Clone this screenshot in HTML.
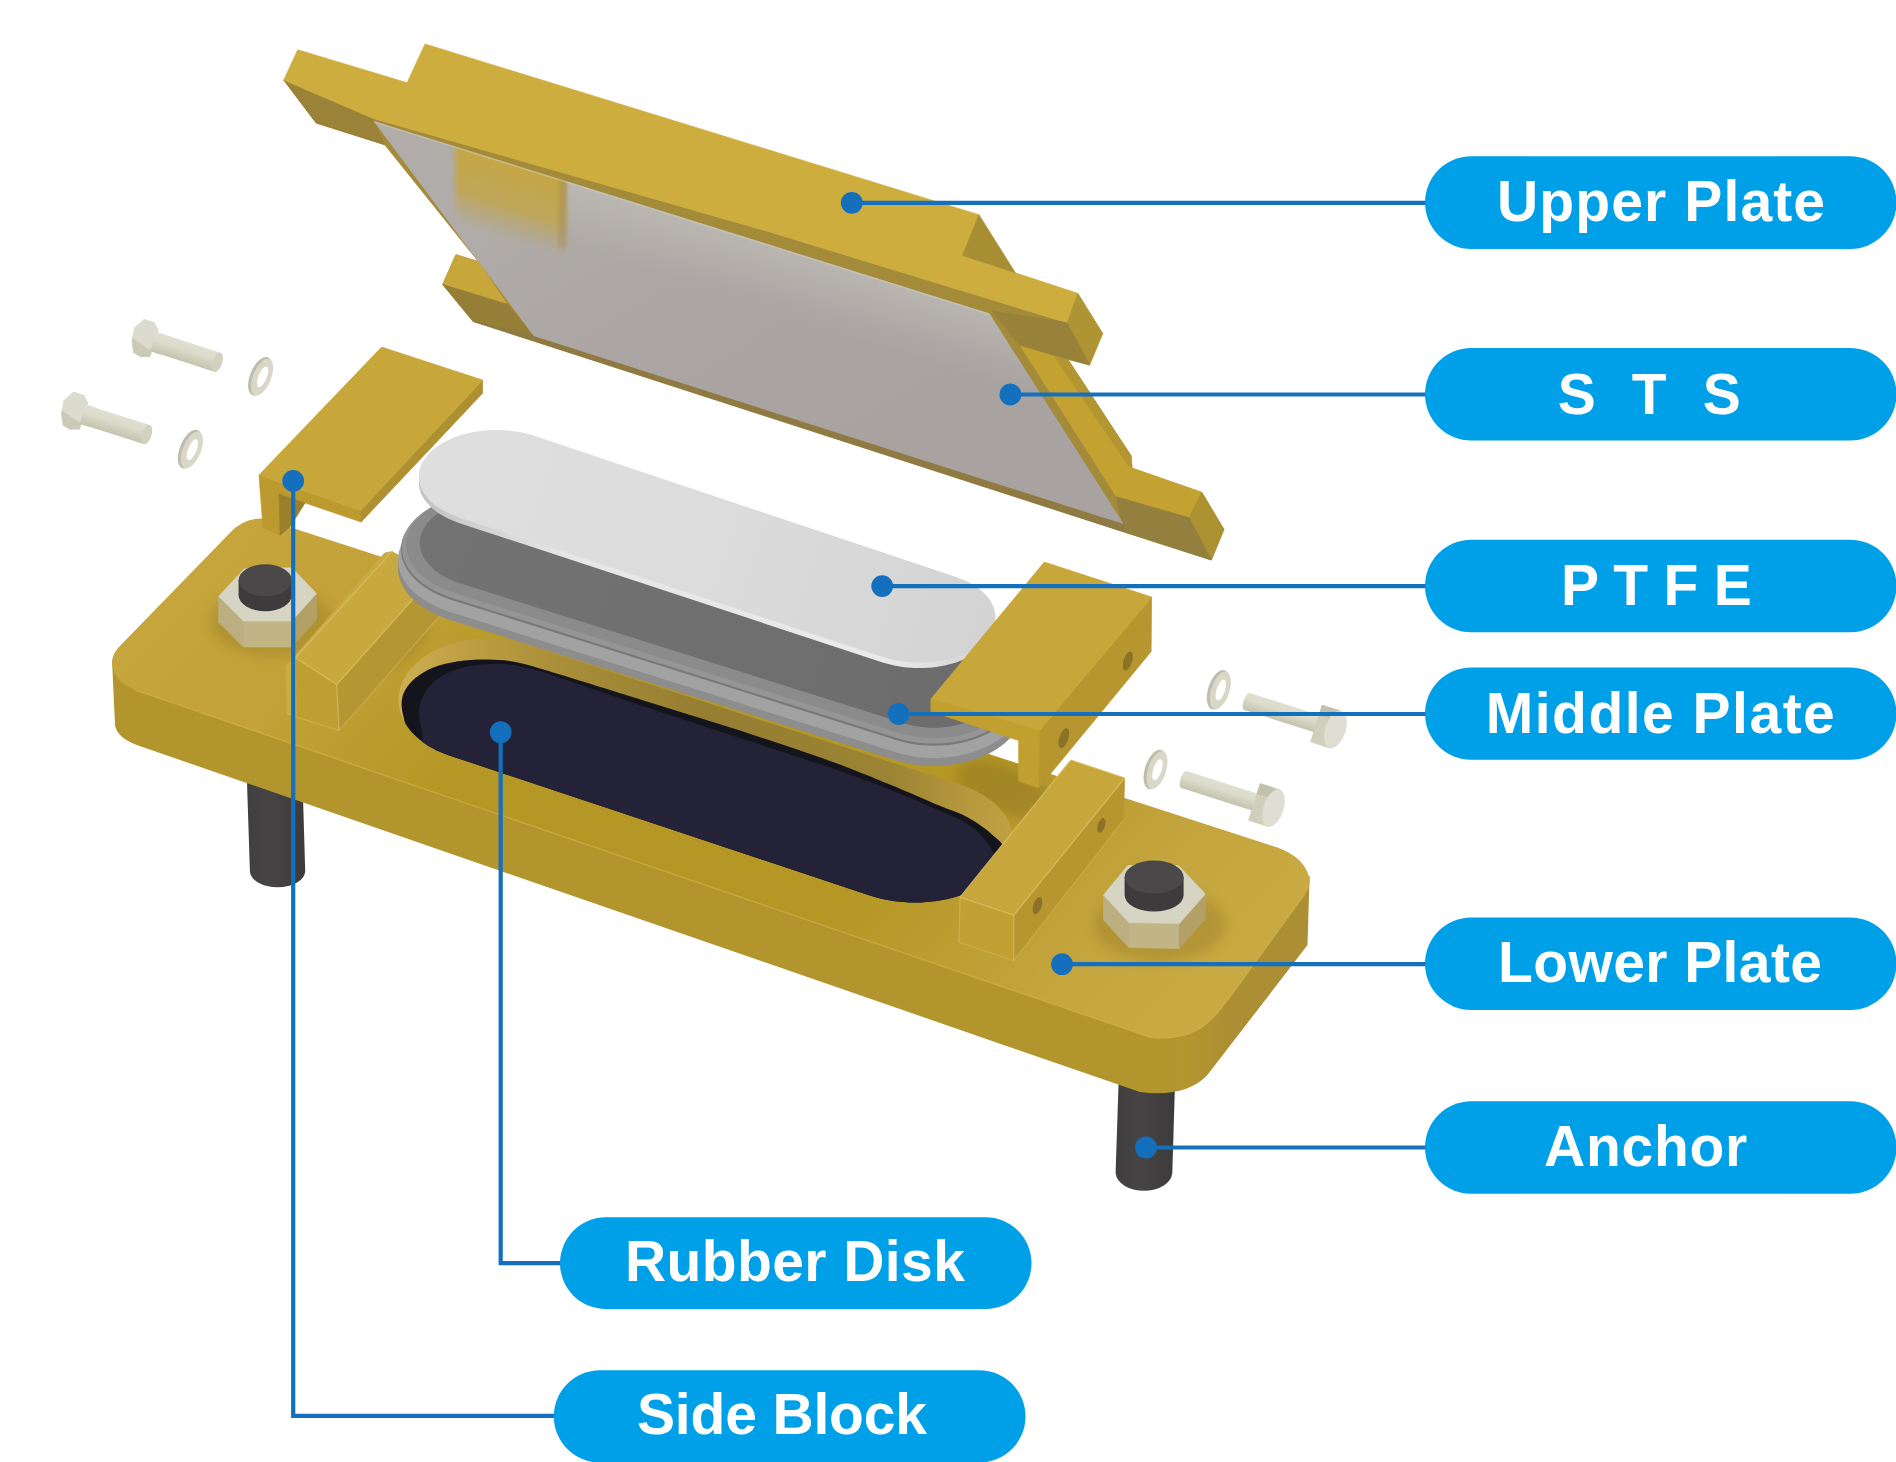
<!DOCTYPE html>
<html lang="en"><head><meta charset="utf-8"><title>Bearing exploded view</title>
<style>html,body{margin:0;padding:0;background:#fff;overflow:hidden}body{width:1896px;height:1462px}
text{font-family:"Liberation Sans",sans-serif;font-weight:bold;font-size:57px;fill:#fff;text-anchor:middle}</style></head>
<body>
<svg width="1896" height="1462" viewBox="0 0 1896 1462" style="display:block">
<defs>
<linearGradient id="gSTS" gradientUnits="userSpaceOnUse" x1="600" y1="150" x2="800" y2="480"><stop offset="0" stop-color="#B0ACA9"/><stop offset="0.45" stop-color="#ABA6A4"/><stop offset="1" stop-color="#A8A3A1"/></linearGradient>
<linearGradient id="gPTFE" gradientUnits="userSpaceOnUse" x1="430" y1="450" x2="990" y2="640"><stop offset="0" stop-color="#DEDEDE"/><stop offset="0.5" stop-color="#DCDCDC"/><stop offset="1" stop-color="#D3D3D3"/></linearGradient>
<linearGradient id="gMid" gradientUnits="userSpaceOnUse" x1="420" y1="540" x2="980" y2="740"><stop offset="0" stop-color="#727372"/><stop offset="1" stop-color="#6B6C6B"/></linearGradient>
<linearGradient id="gRod" x1="0" y1="0" x2="1" y2="0"><stop offset="0" stop-color="#403E3E"/><stop offset="0.4" stop-color="#464444"/><stop offset="1" stop-color="#3C3A3A"/></linearGradient>
<linearGradient id="gTopL" gradientUnits="userSpaceOnUse" x1="112" y1="662" x2="831.7" y2="1367.6"><stop offset="0" stop-color="#C5A53C"/><stop offset="0.15" stop-color="#C2A238"/><stop offset="0.26" stop-color="#B99B2B"/><stop offset="0.33" stop-color="#B59725"/><stop offset="0.69" stop-color="#B59725"/><stop offset="0.78" stop-color="#BB9D30"/><stop offset="0.875" stop-color="#C3A43D"/><stop offset="1" stop-color="#C8A942"/></linearGradient>
<filter id="blur6" x="-20%" y="-20%" width="140%" height="140%"><feGaussianBlur stdDeviation="6"/></filter>
<clipPath id="clipSTS"><polygon points="373.5,121 989.4,313.6 1123.7,524.1 533.7,335.9"/></clipPath>
</defs>
<path d="M246.6,770.0 L302.2,770.0 L305.2,871.0 A27.6,16.3 0 0 1 249.9,871.0 Z" fill="url(#gRod)" />
<path d="M1119.0,1070.0 L1175.4,1070.0 L1172.3,1173.0 A28.4,19.0 0 0 1 1115.6,1173.0 Z" fill="url(#gRod)" />
<linearGradient id="gFront" gradientUnits="userSpaceOnUse" x1="1130" y1="0" x2="1235" y2="0"><stop offset="0" stop-color="#B2952C"/><stop offset="0.5" stop-color="#B3962F"/><stop offset="1" stop-color="#AC8E34"/></linearGradient>
<path d="M112,660 L115,725 Q116.5,738 139.6,746 L1140,1092.1 Q1185,1098 1207,1075.6 L1307.5,945 L1309.6,876 L1200,860 L200,600 Z" fill="url(#gFront)" />
<path d="M263.3,518.5 L1277.5,847.6 Q1306,858 1309.6,880 Q1310,888 1305,894 L1230,997 C1212,1020 1198,1042 1150,1037.2 L135,690 Q113,681 112,662 Q112,653 122.8,643 L229.1,533.7 Q243,518 263.3,518.5 Z" fill="url(#gTopL)" />
<path d="M135,690 L1150,1037.2 C1198,1042 1212,1020 1230,997 L1305,894" fill="none" stroke="#D6B850" stroke-width="1.6" stroke-opacity="0.5"/>
<clipPath id="clipTop"><path d="M263.3,518.5 L1277.5,847.6 Q1306,858 1309.6,880 Q1310,888 1305,894 L1230,997 C1212,1020 1198,1042 1150,1037.2 L135,690 Q113,681 112,662 Q112,653 122.8,643 L229.1,533.7 Q243,518 263.3,518.5 Z"/></clipPath><g clip-path="url(#clipTop)">
<ellipse cx="1006" cy="790" rx="52" ry="24" transform="rotate(22 1006 790)" fill="#7A6420" opacity="0.32" filter="url(#blur6)"/>
<ellipse cx="395" cy="640" rx="40" ry="22" transform="rotate(-40 395 640)" fill="#7A6420" opacity="0.25" filter="url(#blur6)"/>
<ellipse cx="272" cy="622" rx="62" ry="34" fill="#8E7420" opacity="0.35" filter="url(#blur6)"/>
<ellipse cx="1160" cy="925" rx="66" ry="36" fill="#8E7420" opacity="0.35" filter="url(#blur6)"/>
</g>
<linearGradient id="gWall" gradientUnits="userSpaceOnUse" x1="398" y1="0" x2="1015" y2="0"><stop offset="0" stop-color="#CDB052"/><stop offset="0.1" stop-color="#BFA044"/><stop offset="0.27" stop-color="#A88E38"/><stop offset="0.5" stop-color="#957D32"/><stop offset="0.8" stop-color="#9C8434"/><stop offset="0.93" stop-color="#B89A3E"/><stop offset="1" stop-color="#C0A244"/></linearGradient>
<clipPath id="clipPocket"><path d="M398.5,700.0 L398.6,696.6 L399.1,693.1 L399.8,689.7 L400.7,686.3 L402.0,683.0 L403.5,679.7 L405.3,676.5 L407.4,673.3 L409.7,670.3 L412.2,667.3 L415.0,664.4 L418.0,661.7 L421.3,659.0 L424.7,656.5 L428.4,654.1 L432.2,651.9 L436.2,649.8 L440.4,647.9 L444.7,646.2 L449.2,644.6 L453.7,643.2 L458.4,642.0 L463.2,640.9 L468.1,640.0 L473.0,639.4 L478.0,638.9 L483.0,638.6 L488.0,638.5 L493.0,638.6 L498.0,638.9 L503.0,639.4 L507.9,640.0 L512.8,640.9 L517.6,642.0 L522.3,643.2 L526.8,644.6 L957.5,783.7 L962.4,785.3 L967.1,787.1 L971.7,789.0 L976.1,791.1 L980.3,793.4 L984.3,795.8 L988.1,798.4 L991.6,801.0 L994.9,803.8 L998.0,806.7 L1000.8,809.8 L1003.3,812.9 L1005.5,816.1 L1007.5,819.4 L1009.2,822.7 L1010.5,826.1 L1011.6,829.5 L1012.4,833.0 L1012.8,836.5 L1013.0,840.0 L1012.8,843.5 L1012.4,847.0 L1011.6,850.5 L1010.5,853.9 L1009.2,857.3 L1007.5,860.6 L1005.5,863.9 L1003.3,867.1 L1000.8,870.2 L998.0,873.3 L994.9,876.2 L991.6,879.0 L988.1,881.6 L984.3,884.2 L980.3,886.6 L976.1,888.9 L971.7,891.0 L967.1,892.9 L962.4,894.7 L957.5,896.3 L952.5,897.7 L947.4,899.0 L942.1,900.1 L936.8,900.9 L931.4,901.6 L926.0,902.1 L920.5,902.4 L915.0,902.5 L909.5,902.4 L904.0,902.1 L898.6,901.6 L893.2,900.9 L887.9,900.1 L882.6,899.0 L877.5,897.7 L872.5,896.3 L867.6,894.7 L449.2,755.4 L444.7,753.8 L440.4,752.1 L436.2,750.2 L432.2,748.1 L428.4,745.9 L424.7,743.5 L421.3,741.0 L418.0,738.3 L415.0,735.6 L412.2,732.7 L409.7,729.7 L407.4,726.7 L405.3,723.5 L403.5,720.3 L402.0,717.0 L400.7,713.7 L399.8,710.3 L399.1,706.9 L398.6,703.4Z"/></clipPath>
<path d="M398.5,700.0 L398.6,696.6 L399.1,693.1 L399.8,689.7 L400.7,686.3 L402.0,683.0 L403.5,679.7 L405.3,676.5 L407.4,673.3 L409.7,670.3 L412.2,667.3 L415.0,664.4 L418.0,661.7 L421.3,659.0 L424.7,656.5 L428.4,654.1 L432.2,651.9 L436.2,649.8 L440.4,647.9 L444.7,646.2 L449.2,644.6 L453.7,643.2 L458.4,642.0 L463.2,640.9 L468.1,640.0 L473.0,639.4 L478.0,638.9 L483.0,638.6 L488.0,638.5 L493.0,638.6 L498.0,638.9 L503.0,639.4 L507.9,640.0 L512.8,640.9 L517.6,642.0 L522.3,643.2 L526.8,644.6 L957.5,783.7 L962.4,785.3 L967.1,787.1 L971.7,789.0 L976.1,791.1 L980.3,793.4 L984.3,795.8 L988.1,798.4 L991.6,801.0 L994.9,803.8 L998.0,806.7 L1000.8,809.8 L1003.3,812.9 L1005.5,816.1 L1007.5,819.4 L1009.2,822.7 L1010.5,826.1 L1011.6,829.5 L1012.4,833.0 L1012.8,836.5 L1013.0,840.0 L1012.8,843.5 L1012.4,847.0 L1011.6,850.5 L1010.5,853.9 L1009.2,857.3 L1007.5,860.6 L1005.5,863.9 L1003.3,867.1 L1000.8,870.2 L998.0,873.3 L994.9,876.2 L991.6,879.0 L988.1,881.6 L984.3,884.2 L980.3,886.6 L976.1,888.9 L971.7,891.0 L967.1,892.9 L962.4,894.7 L957.5,896.3 L952.5,897.7 L947.4,899.0 L942.1,900.1 L936.8,900.9 L931.4,901.6 L926.0,902.1 L920.5,902.4 L915.0,902.5 L909.5,902.4 L904.0,902.1 L898.6,901.6 L893.2,900.9 L887.9,900.1 L882.6,899.0 L877.5,897.7 L872.5,896.3 L867.6,894.7 L449.2,755.4 L444.7,753.8 L440.4,752.1 L436.2,750.2 L432.2,748.1 L428.4,745.9 L424.7,743.5 L421.3,741.0 L418.0,738.3 L415.0,735.6 L412.2,732.7 L409.7,729.7 L407.4,726.7 L405.3,723.5 L403.5,720.3 L402.0,717.0 L400.7,713.7 L399.8,710.3 L399.1,706.9 L398.6,703.4Z" fill="url(#gWall)" />
<g clip-path="url(#clipPocket)">
<path d="M403.8,718.1 C402.4,712.0 401.4,708.0 401.6,703.4 C401.8,698.8 402.5,694.9 404.8,690.7 C407.1,686.5 410.6,682.0 415.4,678.1 C420.1,674.2 426.1,670.3 433.3,667.5 C440.5,664.7 449.5,662.5 458.6,661.2 C467.7,659.9 478.2,659.3 488.1,659.5 C498.0,659.7 505.7,660.0 517.7,662.5 C529.7,665.0 537.9,667.8 559.9,674.5 C581.9,681.2 620.0,693.1 650.0,702.5 C680.0,711.9 710.0,720.9 740.0,730.6 C770.0,740.4 805.1,752.0 830.0,761.0 C854.9,770.0 871.2,776.9 889.3,784.3 C907.4,791.7 926.2,800.2 938.5,805.3 C950.8,810.4 956.0,811.6 963.2,815.1 C970.4,818.6 976.3,822.5 981.6,826.2 C986.9,829.9 991.5,833.8 995.2,837.3 C998.9,840.8 1001.7,842.5 1004.0,847.0 C1006.3,851.5 1009.7,855.2 1009.0,864.0 C1008.3,872.8 1008.2,889.0 1000.0,900.0 C991.8,911.0 980.0,925.8 960.0,930.0 C940.0,934.2 940.0,941.7 880.0,925.0 C820.0,908.3 675.0,855.8 600.0,830.0 C525.0,804.2 461.7,785.0 430.0,770.0 C398.3,755.0 414.4,748.6 410.0,740.0 C405.6,731.4 405.2,724.2 403.8,718.1Z" fill="#14141C" />
<path d="M421.7,730.8 C420.7,724.8 418.9,719.2 418.9,713.9 C418.9,708.6 419.6,704.1 421.7,699.2 C423.8,694.3 426.8,688.8 431.2,684.4 C435.6,680.0 441.4,675.9 448.1,672.8 C454.8,669.7 462.5,667.3 471.3,665.8 C480.1,664.3 491.0,663.3 500.8,663.8 C510.6,664.2 520.4,666.2 530.3,668.5 C540.1,670.8 539.9,671.1 559.9,677.8 C579.9,684.5 620.0,698.5 650.0,708.5 C680.0,718.5 710.0,728.2 740.0,738.0 C770.0,747.8 805.1,759.0 830.0,767.5 C854.9,776.0 871.2,782.2 889.3,789.3 C907.4,796.4 926.2,804.9 938.5,810.2 C950.8,815.5 956.4,817.4 963.2,821.3 C970.0,825.2 974.7,829.3 979.2,833.6 C983.7,837.9 987.5,842.9 990.2,847.1 C992.9,851.3 994.5,854.2 995.5,859.0 C996.5,863.8 997.8,868.3 996.0,876.0 C994.2,883.7 994.3,896.0 985.0,905.0 C975.7,914.0 959.2,926.7 940.0,930.0 C920.8,933.3 926.7,940.8 870.0,925.0 C813.3,909.2 671.7,860.0 600.0,835.0 C528.3,810.0 469.2,789.2 440.0,775.0 C410.8,760.8 428.1,757.4 425.0,750.0 C421.9,742.6 422.7,736.8 421.7,730.8Z" fill="#232236" />
</g>
<polygon points="285.8,666.5 295.3,657.8 392.1,551.6 384.5,553.0" fill="#C9AB44" stroke="#C9AB44" stroke-width="0.7" stroke-linejoin="round" />
<polygon points="285.8,666.5 295.3,657.8 295.9,716.8 287.2,713.2" fill="#CBAD46" stroke="#CBAD46" stroke-width="0.7" stroke-linejoin="round" />
<polygon points="295.3,657.8 336.8,684.5 339.0,730.4 295.9,716.8" fill="#BF9F31" stroke="#BF9F31" stroke-width="0.7" stroke-linejoin="round" />
<polygon points="336.8,684.5 434.2,575.4 443.7,611.5 339.0,730.4" fill="#B49632" stroke="#B49632" stroke-width="0.7" stroke-linejoin="round" />
<polygon points="392.1,551.6 434.2,575.4 336.8,684.5 295.3,657.8" fill="#C8A93D" stroke="#C8A93D" stroke-width="0.7" stroke-linejoin="round" />
<polyline points="392.1,551.6 295.3,657.8 336.8,684.5 434.2,575.4" fill="none" stroke="#E2C878" stroke-width="1.3" stroke-opacity="0.55" stroke-linejoin="round"/>
<polyline points="336.8,684.5 339.0,730.4" fill="none" stroke="#E2C878" stroke-width="1.3" stroke-opacity="0.55" stroke-linejoin="round"/>
<polyline points="295.3,657.8 295.9,716.8" fill="none" stroke="#E2C878" stroke-width="1.3" stroke-opacity="0.4" stroke-linejoin="round"/>
<polyline points="287.2,713.2 295.9,716.8 339.0,730.4 443.7,611.5" fill="none" stroke="#E2C878" stroke-width="1.3" stroke-opacity="0.35" stroke-linejoin="round"/>
<polygon points="960.0,897.2 1013.8,915.1 1013.8,960.5 959.0,942.5" fill="#C2A034" stroke="#C2A034" stroke-width="0.7" stroke-linejoin="round" />
<polygon points="1013.8,915.1 1124.6,778.0 1123.5,820.2 1013.8,960.5" fill="#B7962F" stroke="#B7962F" stroke-width="0.7" stroke-linejoin="round" />
<polygon points="1070.8,760.0 1124.6,778.0 1013.8,915.1 960.0,897.2" fill="#C7A73B" stroke="#C7A73B" stroke-width="0.7" stroke-linejoin="round" />
<polyline points="1070.8,760.0 960.0,897.2 1013.8,915.1 1124.6,778.0 1070.8,760.0" fill="none" stroke="#E2C878" stroke-width="1.3" stroke-opacity="0.55" stroke-linejoin="round"/>
<polyline points="1013.8,915.1 1013.8,960.5" fill="none" stroke="#E2C878" stroke-width="1.3" stroke-opacity="0.55" stroke-linejoin="round"/>
<polyline points="960.0,897.2 959.0,942.5 1013.8,960.5 1123.5,820.2" fill="none" stroke="#E2C878" stroke-width="1.3" stroke-opacity="0.35" stroke-linejoin="round"/>
<ellipse cx="1101.4" cy="825.4" rx="3.6" ry="7.6" transform="rotate(18 1101.4 825.4)" fill="#8A7326"/>
<ellipse cx="1037.5" cy="905.6" rx="4.2" ry="9" transform="rotate(18 1037.5 905.6)" fill="#8A7326"/>
<polygon points="218.7,596.3 243.4,621.0 243.4,647.0 218.7,622.3" fill="#BBAF82" stroke="#BBAF82" stroke-width="0.7" stroke-linejoin="round" />
<polygon points="243.4,621.0 291.8,621.0 291.8,647.0 243.4,647.0" fill="#C2B585" stroke="#C2B585" stroke-width="0.7" stroke-linejoin="round" />
<polygon points="291.8,621.0 316.5,593.5 316.5,619.5 291.8,647.0" fill="#B2A066" stroke="#B2A066" stroke-width="0.7" stroke-linejoin="round" />
<polygon points="244.3,568.8 291.8,567.8 316.5,593.5 291.8,621.0 243.4,621.0 218.7,596.3" fill="#D6D4C2" stroke="#D6D4C2" stroke-width="0.7" stroke-linejoin="round" />
<path d="M238.6,580.2 L238.6,595.2 A26.6,16.0 0 0 0 291.8,595.2 L291.8,580.2 Z" fill="#3D3B3B" />
<ellipse cx="265.2" cy="580.2" rx="26.6" ry="16.0" fill="#4A4848"/>
<polygon points="1103.5,895.0 1128.8,922.5 1128.8,947.5 1103.5,920.0" fill="#BBAF82" stroke="#BBAF82" stroke-width="0.7" stroke-linejoin="round" />
<polygon points="1128.8,922.5 1179.4,923.5 1179.4,948.5 1128.8,947.5" fill="#C2B585" stroke="#C2B585" stroke-width="0.7" stroke-linejoin="round" />
<polygon points="1179.4,923.5 1205.4,894.0 1205.4,919.0 1179.4,948.5" fill="#B2A066" stroke="#B2A066" stroke-width="0.7" stroke-linejoin="round" />
<polygon points="1127.8,865.5 1178.4,865.5 1205.4,894.0 1179.4,923.5 1128.8,922.5 1103.5,895.0" fill="#D6D4C2" stroke="#D6D4C2" stroke-width="0.7" stroke-linejoin="round" />
<path d="M1124.6,877.1 L1124.6,895.1 A29.5,16.5 0 0 0 1183.6,895.1 L1183.6,877.1 Z" fill="#3D3B3B" />
<ellipse cx="1154.1" cy="877.1" rx="29.5" ry="16.5" fill="#4A4848"/>
<path d="M398.0,568.0 L398.2,564.7 L398.6,561.4 L399.4,558.2 L400.5,554.9 L401.8,551.7 L403.5,548.6 L405.5,545.5 L407.7,542.5 L410.2,539.6 L413.0,536.7 L416.1,534.0 L419.4,531.3 L422.9,528.8 L426.7,526.4 L430.7,524.2 L434.9,522.0 L439.3,520.0 L443.9,518.2 L448.6,516.5 L453.5,515.0 L458.5,513.7 L463.6,512.5 L468.9,511.5 L474.2,510.7 L479.6,510.0 L485.0,509.6 L490.5,509.3 L496.0,509.2 L501.5,509.3 L507.0,509.6 L512.4,510.0 L517.8,510.7 L523.1,511.5 L528.4,512.5 L533.5,513.7 L538.5,515.0 L543.4,516.5 L973.0,651.9 L977.5,653.5 L981.9,655.2 L986.1,657.1 L990.1,659.1 L994.0,661.3 L997.6,663.6 L1001.1,666.0 L1004.4,668.6 L1007.4,671.3 L1010.2,674.1 L1012.8,677.0 L1015.1,680.0 L1017.1,683.0 L1018.9,686.2 L1020.5,689.4 L1021.7,692.6 L1022.7,695.9 L1023.4,699.3 L1023.9,702.6 L1024.0,706.0 L1023.9,709.4 L1023.4,712.7 L1022.7,716.1 L1021.7,719.4 L1020.5,722.6 L1018.9,725.8 L1017.1,729.0 L1015.1,732.0 L1012.8,735.0 L1010.2,737.9 L1007.4,740.7 L1004.4,743.4 L1001.1,746.0 L997.6,748.4 L994.0,750.7 L990.1,752.9 L986.1,754.9 L981.9,756.8 L977.5,758.5 L973.0,760.1 L968.4,761.4 L963.7,762.6 L958.9,763.7 L954.0,764.5 L949.1,765.2 L944.1,765.6 L939.0,765.9 L934.0,766.0 L929.0,765.9 L923.9,765.6 L918.9,765.2 L914.0,764.5 L909.1,763.7 L904.3,762.6 L899.6,761.4 L895.0,760.1 L448.6,619.5 L443.9,617.8 L439.3,616.0 L434.9,614.0 L430.7,611.8 L426.7,609.6 L422.9,607.2 L419.4,604.7 L416.1,602.0 L413.0,599.3 L410.2,596.4 L407.7,593.5 L405.5,590.5 L403.5,587.4 L401.8,584.3 L400.5,581.1 L399.4,577.8 L398.6,574.6 L398.2,571.3Z" fill="#8C8D8C" />
<path d="M398.0,560.0 L398.2,556.7 L398.6,553.4 L399.4,550.2 L400.5,546.9 L401.8,543.7 L403.5,540.6 L405.5,537.5 L407.7,534.5 L410.2,531.6 L413.0,528.7 L416.1,526.0 L419.4,523.3 L422.9,520.8 L426.7,518.4 L430.7,516.2 L434.9,514.0 L439.3,512.0 L443.9,510.2 L448.6,508.5 L453.5,507.0 L458.5,505.7 L463.6,504.5 L468.9,503.5 L474.2,502.7 L479.6,502.0 L485.0,501.6 L490.5,501.3 L496.0,501.2 L501.5,501.3 L507.0,501.6 L512.4,502.0 L517.8,502.7 L523.1,503.5 L528.4,504.5 L533.5,505.7 L538.5,507.0 L543.4,508.5 L973.0,643.9 L977.5,645.5 L981.9,647.2 L986.1,649.1 L990.1,651.1 L994.0,653.3 L997.6,655.6 L1001.1,658.0 L1004.4,660.6 L1007.4,663.3 L1010.2,666.1 L1012.8,669.0 L1015.1,672.0 L1017.1,675.0 L1018.9,678.2 L1020.5,681.4 L1021.7,684.6 L1022.7,687.9 L1023.4,691.3 L1023.9,694.6 L1024.0,698.0 L1023.9,701.4 L1023.4,704.7 L1022.7,708.1 L1021.7,711.4 L1020.5,714.6 L1018.9,717.8 L1017.1,721.0 L1015.1,724.0 L1012.8,727.0 L1010.2,729.9 L1007.4,732.7 L1004.4,735.4 L1001.1,738.0 L997.6,740.4 L994.0,742.7 L990.1,744.9 L986.1,746.9 L981.9,748.8 L977.5,750.5 L973.0,752.1 L968.4,753.4 L963.7,754.6 L958.9,755.7 L954.0,756.5 L949.1,757.2 L944.1,757.6 L939.0,757.9 L934.0,758.0 L929.0,757.9 L923.9,757.6 L918.9,757.2 L914.0,756.5 L909.1,755.7 L904.3,754.6 L899.6,753.4 L895.0,752.1 L448.6,611.5 L443.9,609.8 L439.3,608.0 L434.9,606.0 L430.7,603.8 L426.7,601.6 L422.9,599.2 L419.4,596.7 L416.1,594.0 L413.0,591.3 L410.2,588.4 L407.7,585.5 L405.5,582.5 L403.5,579.4 L401.8,576.3 L400.5,573.1 L399.4,569.8 L398.6,566.6 L398.2,563.3Z" fill="#A1A2A1" />
<path d="M401.0,549.5 L401.1,546.3 L401.6,543.1 L402.3,540.0 L403.4,536.8 L404.7,533.7 L406.3,530.7 L408.2,527.7 L410.4,524.8 L412.9,521.9 L415.6,519.2 L418.5,516.5 L421.7,514.0 L425.2,511.5 L428.8,509.2 L432.7,507.0 L436.8,504.9 L441.0,503.0 L445.5,501.2 L450.0,499.6 L454.8,498.1 L459.6,496.8 L464.6,495.7 L469.7,494.7 L474.9,493.9 L480.1,493.3 L485.4,492.9 L490.7,492.6 L496.0,492.5 L501.3,492.6 L506.6,492.9 L511.9,493.3 L517.1,493.9 L522.3,494.7 L527.4,495.7 L532.4,496.8 L537.2,498.1 L542.0,499.6 L972.0,635.1 L976.3,636.6 L980.6,638.2 L984.6,640.0 L988.6,642.0 L992.3,644.1 L995.9,646.3 L999.2,648.7 L1002.4,651.2 L1005.4,653.8 L1008.1,656.5 L1010.6,659.3 L1012.8,662.2 L1014.8,665.2 L1016.6,668.3 L1018.1,671.4 L1019.3,674.5 L1020.3,677.8 L1020.9,681.0 L1021.4,684.2 L1021.5,687.5 L1021.4,690.8 L1020.9,694.0 L1020.3,697.2 L1019.3,700.5 L1018.1,703.6 L1016.6,706.7 L1014.8,709.8 L1012.8,712.8 L1010.6,715.7 L1008.1,718.5 L1005.4,721.2 L1002.4,723.8 L999.2,726.3 L995.9,728.7 L992.3,730.9 L988.6,733.0 L984.6,735.0 L980.6,736.8 L976.3,738.4 L972.0,739.9 L967.5,741.3 L962.9,742.4 L958.2,743.4 L953.5,744.2 L948.7,744.9 L943.8,745.3 L938.9,745.6 L934.0,745.7 L929.1,745.6 L924.2,745.3 L919.3,744.9 L914.5,744.2 L909.8,743.4 L905.1,742.4 L900.5,741.3 L896.0,739.9 L450.0,599.4 L445.5,597.8 L441.0,596.0 L436.8,594.1 L432.7,592.0 L428.8,589.8 L425.2,587.5 L421.7,585.0 L418.5,582.5 L415.6,579.8 L412.9,577.1 L410.4,574.2 L408.2,571.3 L406.3,568.3 L404.7,565.3 L403.4,562.2 L402.3,559.0 L401.6,555.9 L401.1,552.7Z" fill="#777877" />
<path d="M402.0,548.0 L402.1,544.8 L402.6,541.7 L403.3,538.6 L404.4,535.4 L405.7,532.4 L407.3,529.4 L409.2,526.4 L411.3,523.5 L413.7,520.7 L416.4,518.0 L419.3,515.4 L422.5,512.8 L425.9,510.4 L429.5,508.1 L433.4,505.9 L437.4,503.9 L441.6,502.0 L446.0,500.2 L450.5,498.6 L455.2,497.2 L460.0,495.9 L465.0,494.8 L470.0,493.8 L475.1,493.0 L480.3,492.4 L485.5,492.0 L490.7,491.7 L496.0,491.6 L501.3,491.7 L506.5,492.0 L511.7,492.4 L516.9,493.0 L522.0,493.8 L527.0,494.8 L532.0,495.9 L536.8,497.2 L541.5,498.6 L971.5,634.1 L975.8,635.6 L980.0,637.2 L984.1,639.0 L987.9,641.0 L991.6,643.1 L995.2,645.3 L998.5,647.6 L1001.6,650.1 L1004.5,652.7 L1007.2,655.4 L1009.7,658.1 L1011.9,661.0 L1013.9,664.0 L1015.6,667.0 L1017.1,670.1 L1018.3,673.2 L1019.3,676.4 L1020.0,679.6 L1020.4,682.8 L1020.5,686.0 L1020.4,689.2 L1020.0,692.4 L1019.3,695.6 L1018.3,698.8 L1017.1,701.9 L1015.6,705.0 L1013.9,708.0 L1011.9,711.0 L1009.7,713.9 L1007.2,716.6 L1004.5,719.3 L1001.6,721.9 L998.5,724.4 L995.2,726.7 L991.6,728.9 L987.9,731.0 L984.1,733.0 L980.0,734.8 L975.8,736.4 L971.5,737.9 L967.1,739.2 L962.6,740.4 L957.9,741.3 L953.2,742.2 L948.5,742.8 L943.7,743.2 L938.9,743.5 L934.0,743.6 L929.1,743.5 L924.3,743.2 L919.5,742.8 L914.8,742.2 L910.1,741.3 L905.4,740.4 L900.9,739.2 L896.5,737.9 L450.5,597.4 L446.0,595.8 L441.6,594.0 L437.4,592.1 L433.4,590.1 L429.5,587.9 L425.9,585.6 L422.5,583.2 L419.3,580.6 L416.4,578.0 L413.7,575.3 L411.3,572.5 L409.2,569.6 L407.3,566.6 L405.7,563.6 L404.4,560.6 L403.3,557.4 L402.6,554.3 L402.1,551.2Z" fill="#949594" />
<path d="M406.0,545.0 L406.1,542.0 L406.6,539.0 L407.3,536.0 L408.3,533.0 L409.5,530.1 L411.1,527.2 L412.9,524.3 L414.9,521.6 L417.2,518.9 L419.8,516.3 L422.6,513.8 L425.6,511.3 L428.9,509.0 L432.4,506.8 L436.0,504.7 L439.9,502.8 L443.9,501.0 L448.1,499.3 L452.5,497.7 L457.0,496.3 L461.6,495.1 L466.3,494.0 L471.1,493.1 L476.0,492.4 L480.9,491.8 L485.9,491.3 L491.0,491.1 L496.0,491.0 L501.0,491.1 L506.1,491.3 L511.1,491.8 L516.0,492.4 L520.9,493.1 L525.7,494.0 L530.4,495.1 L535.0,496.3 L539.5,497.7 L969.8,633.3 L973.9,634.7 L977.9,636.3 L981.7,638.0 L985.4,639.8 L989.0,641.8 L992.3,644.0 L995.5,646.2 L998.5,648.6 L1001.3,651.1 L1003.9,653.6 L1006.2,656.3 L1008.3,659.0 L1010.2,661.9 L1011.9,664.8 L1013.3,667.7 L1014.4,670.7 L1015.3,673.8 L1016.0,676.8 L1016.4,679.9 L1016.5,683.0 L1016.4,686.1 L1016.0,689.2 L1015.3,692.2 L1014.4,695.3 L1013.3,698.3 L1011.9,701.2 L1010.2,704.1 L1008.3,707.0 L1006.2,709.7 L1003.9,712.4 L1001.3,714.9 L998.5,717.4 L995.5,719.8 L992.3,722.0 L989.0,724.2 L985.4,726.2 L981.7,728.0 L977.9,729.7 L973.9,731.3 L969.8,732.7 L965.6,734.0 L961.2,735.1 L956.8,736.0 L952.4,736.8 L947.8,737.4 L943.2,737.9 L938.6,738.1 L934.0,738.2 L929.4,738.1 L924.8,737.9 L920.2,737.4 L915.6,736.8 L911.2,736.0 L906.8,735.1 L902.4,734.0 L898.2,732.7 L452.5,592.3 L448.1,590.7 L443.9,589.0 L439.9,587.2 L436.0,585.3 L432.4,583.2 L428.9,581.0 L425.6,578.7 L422.6,576.2 L419.8,573.7 L417.2,571.1 L414.9,568.4 L412.9,565.7 L411.1,562.8 L409.5,559.9 L408.3,557.0 L407.3,554.0 L406.6,551.0 L406.1,548.0Z" fill="#8A8B8A" />
<path d="M419.8,543.0 L419.9,540.4 L420.3,537.9 L420.9,535.3 L421.7,532.8 L422.8,530.3 L424.1,527.9 L425.6,525.5 L427.3,523.2 L429.3,520.9 L431.5,518.7 L433.9,516.6 L436.4,514.5 L439.2,512.5 L442.1,510.7 L445.2,508.9 L448.5,507.3 L451.9,505.7 L455.5,504.3 L459.1,503.0 L462.9,501.8 L466.8,500.8 L470.8,499.9 L474.9,499.1 L479.0,498.4 L483.2,497.9 L487.5,497.6 L491.7,497.4 L496.0,497.3 L500.3,497.4 L504.5,497.6 L508.8,497.9 L513.0,498.4 L517.1,499.1 L521.2,499.9 L525.2,500.8 L529.1,501.8 L532.9,503.0 L963.9,638.8 L967.4,640.0 L970.7,641.4 L973.9,642.8 L977.0,644.4 L980.0,646.1 L982.8,647.9 L985.4,649.8 L987.9,651.8 L990.3,653.9 L992.4,656.1 L994.4,658.4 L996.2,660.7 L997.7,663.1 L999.1,665.5 L1000.3,668.0 L1001.3,670.6 L1002.0,673.2 L1002.6,675.8 L1002.9,678.4 L1003.0,681.0 L1002.9,683.6 L1002.6,686.2 L1002.0,688.8 L1001.3,691.4 L1000.3,694.0 L999.1,696.5 L997.7,698.9 L996.2,701.3 L994.4,703.6 L992.4,705.9 L990.3,708.1 L987.9,710.2 L985.4,712.2 L982.8,714.1 L980.0,715.9 L977.0,717.6 L973.9,719.2 L970.7,720.6 L967.4,722.0 L963.9,723.2 L960.4,724.2 L956.8,725.2 L953.1,726.0 L949.4,726.6 L945.6,727.1 L941.7,727.5 L937.9,727.7 L934.0,727.8 L930.1,727.7 L926.3,727.5 L922.4,727.1 L918.6,726.6 L914.9,726.0 L911.2,725.2 L907.6,724.2 L904.1,723.2 L459.1,583.0 L455.5,581.7 L451.9,580.3 L448.5,578.7 L445.2,577.1 L442.1,575.3 L439.2,573.5 L436.4,571.5 L433.9,569.4 L431.5,567.3 L429.3,565.1 L427.3,562.8 L425.6,560.5 L424.1,558.1 L422.8,555.7 L421.7,553.2 L420.9,550.7 L420.3,548.1 L419.9,545.6Z" fill="url(#gMid)" />
<linearGradient id="gPTs" gradientUnits="userSpaceOnUse" x1="420" y1="0" x2="1000" y2="0"><stop offset="0" stop-color="#C2C2C2"/><stop offset="0.25" stop-color="#E6E6E6"/><stop offset="0.8" stop-color="#EAEAEA"/><stop offset="1" stop-color="#D0D0D0"/></linearGradient>
<path d="M418.8,482.1 L418.9,479.5 L419.3,476.9 L419.9,474.3 L420.7,471.7 L421.8,469.2 L423.2,466.7 L424.7,464.3 L426.5,461.9 L428.5,459.6 L430.7,457.3 L433.1,455.1 L435.8,453.0 L438.6,451.0 L441.6,449.1 L444.7,447.4 L448.1,445.7 L451.5,444.1 L455.2,442.6 L458.9,441.3 L462.8,440.1 L466.8,439.0 L470.8,438.1 L475.0,437.3 L479.2,436.7 L483.5,436.2 L487.8,435.8 L492.1,435.6 L496.5,435.5 L500.9,435.6 L505.2,435.8 L509.5,436.2 L513.8,436.7 L518.0,437.3 L522.2,438.1 L526.2,439.0 L530.2,440.1 L534.1,441.3 L956.2,582.6 L959.8,583.9 L963.4,585.3 L966.8,586.8 L970.0,588.5 L973.1,590.3 L976.1,592.1 L978.8,594.1 L981.4,596.1 L983.8,598.2 L985.9,600.4 L987.9,602.7 L989.6,605.0 L991.1,607.4 L992.4,609.9 L993.5,612.4 L994.3,614.9 L994.9,617.4 L995.3,619.9 L995.4,622.5 L995.3,625.1 L994.9,627.6 L994.3,630.1 L993.5,632.6 L992.4,635.1 L991.1,637.6 L989.6,640.0 L987.9,642.3 L985.9,644.6 L983.8,646.8 L981.4,648.9 L978.8,650.9 L976.1,652.9 L973.1,654.7 L970.0,656.5 L966.8,658.2 L963.4,659.7 L959.8,661.1 L956.2,662.4 L952.4,663.6 L948.5,664.6 L944.5,665.5 L940.4,666.3 L936.3,667.0 L932.1,667.5 L927.9,667.8 L923.7,668.0 L919.4,668.1 L915.1,668.0 L910.9,667.8 L906.7,667.5 L902.5,667.0 L898.4,666.3 L894.3,665.5 L890.3,664.6 L886.4,663.6 L882.6,662.4 L458.9,522.9 L455.2,521.6 L451.5,520.1 L448.1,518.5 L444.7,516.8 L441.6,515.1 L438.6,513.2 L435.8,511.2 L433.1,509.1 L430.7,506.9 L428.5,504.6 L426.5,502.3 L424.7,499.9 L423.2,497.5 L421.8,495.0 L420.7,492.5 L419.9,489.9 L419.3,487.3 L418.9,484.7Z" fill="url(#gPTs)" />
<path d="M418.8,476.6 L418.9,474.0 L419.3,471.4 L419.9,468.8 L420.7,466.2 L421.8,463.7 L423.2,461.2 L424.7,458.8 L426.5,456.4 L428.5,454.1 L430.7,451.8 L433.1,449.6 L435.8,447.5 L438.6,445.5 L441.6,443.6 L444.7,441.9 L448.1,440.2 L451.5,438.6 L455.2,437.1 L458.9,435.8 L462.8,434.6 L466.8,433.5 L470.8,432.6 L475.0,431.8 L479.2,431.2 L483.5,430.7 L487.8,430.3 L492.1,430.1 L496.5,430.0 L500.9,430.1 L505.2,430.3 L509.5,430.7 L513.8,431.2 L518.0,431.8 L522.2,432.6 L526.2,433.5 L530.2,434.6 L534.1,435.8 L956.2,577.1 L959.8,578.4 L963.4,579.8 L966.8,581.3 L970.0,583.0 L973.1,584.8 L976.1,586.6 L978.8,588.6 L981.4,590.6 L983.8,592.7 L985.9,594.9 L987.9,597.2 L989.6,599.5 L991.1,601.9 L992.4,604.4 L993.5,606.9 L994.3,609.4 L994.9,611.9 L995.3,614.4 L995.4,617.0 L995.3,619.6 L994.9,622.1 L994.3,624.6 L993.5,627.1 L992.4,629.6 L991.1,632.1 L989.6,634.5 L987.9,636.8 L985.9,639.1 L983.8,641.3 L981.4,643.4 L978.8,645.4 L976.1,647.4 L973.1,649.2 L970.0,651.0 L966.8,652.7 L963.4,654.2 L959.8,655.6 L956.2,656.9 L952.4,658.1 L948.5,659.1 L944.5,660.0 L940.4,660.8 L936.3,661.5 L932.1,662.0 L927.9,662.3 L923.7,662.5 L919.4,662.6 L915.1,662.5 L910.9,662.3 L906.7,662.0 L902.5,661.5 L898.4,660.8 L894.3,660.0 L890.3,659.1 L886.4,658.1 L882.6,656.9 L458.9,517.4 L455.2,516.1 L451.5,514.6 L448.1,513.0 L444.7,511.3 L441.6,509.6 L438.6,507.7 L435.8,505.7 L433.1,503.6 L430.7,501.4 L428.5,499.1 L426.5,496.8 L424.7,494.4 L423.2,492.0 L421.8,489.5 L420.7,487.0 L419.9,484.4 L419.3,481.8 L418.9,479.2Z" fill="url(#gPTFE)" />
<polygon points="259.0,475.0 360.5,510.6 361.1,522.0 279.0,494.0 280.1,535.2 263.0,527.8" fill="#BC9A2E" stroke="#BC9A2E" stroke-width="0.7" stroke-linejoin="round" />
<polygon points="279.0,494.0 305.0,503.0 290.0,527.0 280.1,535.2" fill="#9A7F2C" stroke="#9A7F2C" stroke-width="0.7" stroke-linejoin="round" />
<polygon points="360.5,510.6 482.6,380.1 482.6,393.3 361.1,522.0" fill="#AF9030" stroke="#AF9030" stroke-width="0.7" stroke-linejoin="round" />
<polygon points="381.6,347.1 482.6,380.1 360.5,510.6 259.0,475.0" fill="#C7A63A" stroke="#C7A63A" stroke-width="0.7" stroke-linejoin="round" />
<polygon points="930.9,699.0 1040.0,729.9 1038.8,788.0 1018.7,780.9 1018.7,740.6 930.9,711.4" fill="#C2A030" stroke="#C2A030" stroke-width="0.7" stroke-linejoin="round" />
<polygon points="1040.0,729.9 1151.6,597.0 1151.1,651.6 1038.8,788.0" fill="#B7962F" stroke="#B7962F" stroke-width="0.7" stroke-linejoin="round" />
<polygon points="1044.3,562.1 1151.6,597.0 1040.0,729.9 930.9,699.0" fill="#C7A63A" stroke="#C7A63A" stroke-width="0.7" stroke-linejoin="round" />
<ellipse cx="1127.8" cy="661" rx="4.2" ry="10" transform="rotate(18 1127.8 661)" fill="#8A7326"/>
<ellipse cx="1063.8" cy="738.2" rx="4.5" ry="10.5" transform="rotate(18 1063.8 738.2)" fill="#8A7326"/>
<polygon points="283.8,80.1 372.8,118.3 770.0,232.0 1067.2,322.8 1089.7,365.0 1067.9,359.5 1131.0,455.8 1132.2,468.2 1201.8,492.4 1223.9,529.4 1211.3,560.0 473.1,321.4 442.7,284.5 455.9,254.7 478.3,261.5 384.7,144.7 316.2,123.0" fill="#A38B3A" stroke="#A38B3A" stroke-width="0.7" stroke-linejoin="round" />
<polygon points="1020.3,345.8 1058.3,357.4 1127.9,465.0 1132.2,468.2 1201.8,492.4 1189.1,517.8 1116.3,496.7" fill="#C4A232" stroke="#C4A232" stroke-width="0.7" stroke-linejoin="round" />
<polygon points="1054.0,356.0 1067.9,359.5 1131.0,455.8 1131.4,466.8 1127.9,465.0" fill="#B39631" stroke="#B39631" stroke-width="0.7" stroke-linejoin="round" />
<polygon points="1201.8,492.4 1223.9,529.4 1211.3,560.0 1189.1,517.8" fill="#AB912F" stroke="#AB912F" stroke-width="0.7" stroke-linejoin="round" />
<polygon points="1189.1,517.8 1211.3,560.0 1123.7,531.9 1116.3,496.7" fill="#93803E" stroke="#93803E" stroke-width="0.7" stroke-linejoin="round" />
<polygon points="455.9,254.7 478.3,261.5 507.3,304.3 442.7,284.5" fill="#C7A63A" stroke="#C7A63A" stroke-width="0.7" stroke-linejoin="round" />
<polygon points="442.7,284.5 507.3,304.3 533.7,335.9 473.1,321.4" fill="#957E36" stroke="#957E36" stroke-width="0.7" stroke-linejoin="round" />
<polygon points="283.8,80.1 372.8,118.3 384.7,144.7 316.2,123.0" fill="#9A8238" stroke="#9A8238" stroke-width="0.7" stroke-linejoin="round" />
<polygon points="473.1,321.4 533.7,335.9 1123.7,524.1 1123.7,531.9" fill="#8E7A42" stroke="#8E7A42" stroke-width="0.7" stroke-linejoin="round" />
<polygon points="373.5,121.0 989.4,313.6 1123.7,524.1 533.7,335.9" fill="url(#gSTS)" />
<linearGradient id="gRefY" gradientUnits="userSpaceOnUse" x1="510" y1="165" x2="488" y2="235"><stop offset="0" stop-color="#C6A640" stop-opacity="0.95"/><stop offset="0.55" stop-color="#C2A446" stop-opacity="0.8"/><stop offset="1" stop-color="#B9A460" stop-opacity="0"/></linearGradient>
<linearGradient id="gRefW" gradientUnits="userSpaceOnUse" x1="780" y1="248" x2="760" y2="312"><stop offset="0" stop-color="#C0BDB8" stop-opacity="0.7"/><stop offset="0.5" stop-color="#BBB7B2" stop-opacity="0.4"/><stop offset="1" stop-color="#B0ACA8" stop-opacity="0"/></linearGradient>
<filter id="blur3" x="-10%" y="-10%" width="120%" height="120%"><feGaussianBlur stdDeviation="2.5"/></filter>
<g clip-path="url(#clipSTS)"><polygon points="566,176 1140,356 1140,440 566,262" fill="url(#gRefW)"/><polygon points="455,140 566,176 566,262 455,228" fill="url(#gRefY)" filter="url(#blur3)"/><polygon points="559,176 567,178 566,250 558,246" fill="#9C8A55" opacity="0.45" filter="url(#blur3)"/></g>
<line x1="374.5" y1="122" x2="989" y2="314.2" stroke="#CFC8B0" stroke-width="1.6" stroke-opacity="0.55"/>
<polygon points="297.7,49.8 407.1,82.7 425.0,44.0 978.9,214.7 962.5,255.6 1077.8,293.3 1067.2,322.8 770.0,232.0 372.8,118.3 283.8,80.1" fill="#CEAD3F" stroke="#CEAD3F" stroke-width="0.7" stroke-linejoin="round" />
<polygon points="978.9,214.7 962.5,255.6 1015.3,272.7" fill="#A88E33" stroke="#A88E33" stroke-width="0.7" stroke-linejoin="round" />
<polygon points="1077.8,293.3 1102.8,333.4 1089.7,365.0 1067.2,322.8" fill="#AE9432" stroke="#AE9432" stroke-width="0.7" stroke-linejoin="round" />
<polygon points="1067.2,322.8 1089.7,365.0 1019.8,345.2 992.0,311.0" fill="#98823A" stroke="#98823A" stroke-width="0.7" stroke-linejoin="round" />
<g transform="translate(144.0 338.6) rotate(17.9)">
<linearGradient id="gB144" x1="0" y1="0" x2="0" y2="1"><stop offset="0" stop-color="#E0E0D2"/><stop offset="0.4" stop-color="#DBDBCB"/><stop offset="1" stop-color="#C4C3AE"/></linearGradient>
<rect x="0" y="-10.0" width="77.2" height="20.0" fill="url(#gB144)"/>
<ellipse cx="77.2" cy="0" rx="4.8" ry="10.0" fill="#D3D2C0"/>
<polygon points="-5.5,-18.0 4.6,-18.0 10.8,-12.2 10.8,15.1 2.3,18.0 -5.3,16.2 -10.3,6.1 -12.0,-7.2" fill="#DCDCCE" stroke="#DCDCCE" stroke-width="1.5" stroke-linejoin="round"/>
<polygon points="-10.8,3.6 10.8,9.7 10.8,15.1 2.3,18.0 -5.3,16.2 -10.3,6.1" fill="#CBCAB7" stroke="#CBCAB7" stroke-width="1" stroke-linejoin="round"/>
<rect x="9.7" y="-10.0" width="11.5" height="20.0" fill="url(#gB144)"/>
</g>
<g transform="translate(73.5 411.2) rotate(17.7)">
<linearGradient id="gB73" x1="0" y1="0" x2="0" y2="1"><stop offset="0" stop-color="#E0E0D2"/><stop offset="0.4" stop-color="#DBDBCB"/><stop offset="1" stop-color="#C4C3AE"/></linearGradient>
<rect x="0" y="-10.0" width="76.9" height="20.0" fill="url(#gB73)"/>
<ellipse cx="76.9" cy="0" rx="4.8" ry="10.0" fill="#D3D2C0"/>
<polygon points="-5.5,-18.0 4.6,-18.0 10.8,-12.2 10.8,15.1 2.3,18.0 -5.3,16.2 -10.3,6.1 -12.0,-7.2" fill="#DCDCCE" stroke="#DCDCCE" stroke-width="1.5" stroke-linejoin="round"/>
<polygon points="-10.8,3.6 10.8,9.7 10.8,15.1 2.3,18.0 -5.3,16.2 -10.3,6.1" fill="#CBCAB7" stroke="#CBCAB7" stroke-width="1" stroke-linejoin="round"/>
<rect x="9.7" y="-10.0" width="11.5" height="20.0" fill="url(#gB73)"/>
</g>
<g transform="rotate(22.0 261.0 376.7)"><ellipse cx="260.0" cy="376.7" rx="10" ry="20.5" fill="#BFBEAB"/><ellipse cx="262.2" cy="376.7" rx="9" ry="19.5" fill="#D8D7C8"/><ellipse cx="262.5" cy="376.2" rx="4.2" ry="11" fill="#fff"/></g>
<g transform="rotate(22.0 190.8 449.5)"><ellipse cx="189.8" cy="449.5" rx="10" ry="20.5" fill="#BFBEAB"/><ellipse cx="192.0" cy="449.5" rx="9" ry="19.5" fill="#D8D7C8"/><ellipse cx="192.3" cy="449.0" rx="4.2" ry="11" fill="#fff"/></g>
<g transform="translate(1327.5 727.0) rotate(-162.4)">
<linearGradient id="gB1327" x1="0" y1="1" x2="0" y2="0"><stop offset="0" stop-color="#E0E0D2"/><stop offset="0.4" stop-color="#DBDBCB"/><stop offset="1" stop-color="#C4C3AE"/></linearGradient>
<rect x="0" y="-9.0" width="84.4" height="18.0" fill="url(#gB1327)"/>
<ellipse cx="84.4" cy="0" rx="3.6" ry="9.0" fill="url(#gB1327)"/>
<path d="M12.0,-19.5 L-8.4,-19.5 L-14.4,0.0 L-8.4,19.5 L12.0,19.5 L12.0,-19.5 Z" fill="#CFCFBC"/>
<path d="M12.0,8.6 L-11.5,8.6 L-8.4,19.5 L12.0,19.5 Z" fill="#C2C1AC"/>
<ellipse cx="-8.4" cy="0" rx="10.1" ry="19.5" fill="#DEDED2"/>
</g>
<g transform="translate(1265.5 805.5) rotate(-162.3)">
<linearGradient id="gB1265" x1="0" y1="1" x2="0" y2="0"><stop offset="0" stop-color="#E0E0D2"/><stop offset="0.4" stop-color="#DBDBCB"/><stop offset="1" stop-color="#C4C3AE"/></linearGradient>
<rect x="0" y="-9.0" width="85.5" height="18.0" fill="url(#gB1265)"/>
<ellipse cx="85.5" cy="0" rx="3.6" ry="9.0" fill="url(#gB1265)"/>
<path d="M12.0,-19.5 L-8.4,-19.5 L-14.4,0.0 L-8.4,19.5 L12.0,19.5 L12.0,-19.5 Z" fill="#CFCFBC"/>
<path d="M12.0,8.6 L-11.5,8.6 L-8.4,19.5 L12.0,19.5 Z" fill="#C2C1AC"/>
<ellipse cx="-8.4" cy="0" rx="10.1" ry="19.5" fill="#DEDED2"/>
</g>
<g transform="rotate(18.0 1219.2 690.0)"><ellipse cx="1218.2" cy="690.0" rx="10" ry="20.5" fill="#BFBEAB"/><ellipse cx="1220.4" cy="690.0" rx="9" ry="19.5" fill="#D8D7C8"/><ellipse cx="1220.7" cy="689.5" rx="4.2" ry="11" fill="#fff"/></g>
<g transform="rotate(18.0 1155.9 769.7)"><ellipse cx="1154.9" cy="769.7" rx="10" ry="20.5" fill="#BFBEAB"/><ellipse cx="1157.1" cy="769.7" rx="9" ry="19.5" fill="#D8D7C8"/><ellipse cx="1157.4" cy="769.2" rx="4.2" ry="11" fill="#fff"/></g>
<line x1="851.8" y1="202.8" x2="1440.0" y2="202.8" stroke="#1470BD" stroke-width="4.2"/>
<circle cx="851.8" cy="202.8" r="10.9" fill="#1470BD"/>
<line x1="1010.4" y1="394.5" x2="1440.0" y2="394.5" stroke="#1470BD" stroke-width="4.2"/>
<circle cx="1010.4" cy="394.5" r="10.9" fill="#1470BD"/>
<line x1="882.2" y1="586.1" x2="1440.0" y2="586.1" stroke="#1470BD" stroke-width="4.2"/>
<circle cx="882.2" cy="586.1" r="10.9" fill="#1470BD"/>
<line x1="898.6" y1="714.0" x2="1440.0" y2="714.0" stroke="#1470BD" stroke-width="4.2"/>
<circle cx="898.6" cy="714.0" r="10.9" fill="#1470BD"/>
<line x1="1062.0" y1="964.2" x2="1440.0" y2="964.2" stroke="#1470BD" stroke-width="4.2"/>
<circle cx="1062.0" cy="964.2" r="10.9" fill="#1470BD"/>
<line x1="1146.0" y1="1147.5" x2="1440.0" y2="1147.5" stroke="#1470BD" stroke-width="4.2"/>
<circle cx="1146.0" cy="1147.5" r="10.9" fill="#1470BD"/>
<polyline points="500.7,732.2 500.7,1263.2 575,1263.2" fill="none" stroke="#1470BD" stroke-width="4.2"/>
<circle cx="500.7" cy="732.2" r="10.9" fill="#1470BD"/>
<polyline points="293.2,480.9 293.2,1415.8 570,1415.8" fill="none" stroke="#1470BD" stroke-width="4.2"/>
<circle cx="293.2" cy="480.9" r="10.9" fill="#1470BD"/>
<rect x="1425.0" y="156.3" width="471.5" height="92.6" rx="46.3" fill="#00A0E9"/>
<text x="1661.0" y="221.0" textLength="328.0" lengthAdjust="spacing">Upper Plate</text>
<rect x="1425.0" y="348.0" width="471.5" height="92.6" rx="46.3" fill="#00A0E9"/>
<text x="1649.2" y="413.8" textLength="183.0" lengthAdjust="spacing">S T S</text>
<rect x="1425.0" y="539.8" width="471.5" height="92.4" rx="46.2" fill="#00A0E9"/>
<text x="1656.4" y="605.0" textLength="191.0" lengthAdjust="spacing">P T F E</text>
<rect x="1425.0" y="667.6" width="471.5" height="92.2" rx="46.1" fill="#00A0E9"/>
<text x="1660.3" y="733.2" textLength="349.0" lengthAdjust="spacing">Middle Plate</text>
<rect x="1425.0" y="917.5" width="471.5" height="92.4" rx="46.2" fill="#00A0E9"/>
<text x="1660.0" y="982.0" textLength="324.0" lengthAdjust="spacing">Lower Plate</text>
<rect x="1425.0" y="1101.3" width="471.5" height="92.4" rx="46.2" fill="#00A0E9"/>
<text x="1645.6" y="1166.0" textLength="203.0" lengthAdjust="spacing">Anchor</text>
<rect x="560.0" y="1217.3" width="471.5" height="91.8" rx="45.9" fill="#00A0E9"/>
<text x="794.9" y="1280.7" textLength="340.0" lengthAdjust="spacing">Rubber Disk</text>
<rect x="553.8" y="1370.2" width="471.7" height="92.4" rx="46.2" fill="#00A0E9"/>
<text x="782.0" y="1433.9" textLength="290.0" lengthAdjust="spacing">Side Block</text>
</svg>
</body></html>
